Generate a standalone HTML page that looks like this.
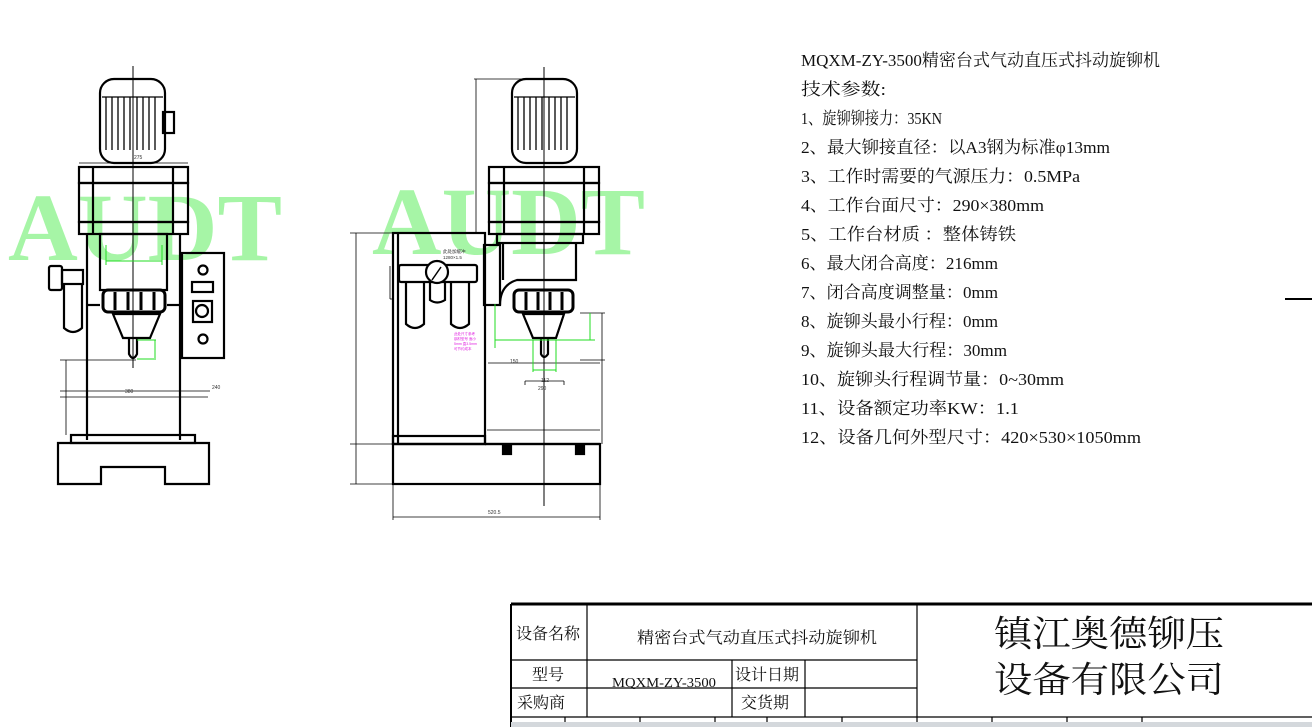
<!DOCTYPE html>
<html><head><meta charset="utf-8"><style>
html,body{margin:0;padding:0;background:#fff;}
svg{display:block;}
.t{font-family:"Liberation Serif","Noto Serif CJK SC",serif;font-size:17px;fill:#111;}
.wm{font-family:"Liberation Serif",serif;font-weight:bold;font-size:96px;fill:#a6f5a6;}
.tb{font-family:"Liberation Serif","Noto Serif CJK SC",serif;fill:#111;}
</style></head><body>
<svg width="1312" height="727" viewBox="0 0 1312 727" xmlns="http://www.w3.org/2000/svg">
<!-- watermarks -->
<text class="wm" x="8" y="260" textLength="274" lengthAdjust="spacingAndGlyphs">AUDT</text>
<text class="wm" x="372" y="254" textLength="273" lengthAdjust="spacingAndGlyphs">AUDT</text>
<g fill="none" stroke="#000" stroke-width="2.2">
<!-- LEFT MACHINE -->
<line x1="133" y1="66" x2="133" y2="368" stroke-width="1"/>
<rect x="100" y="79" width="65" height="84" rx="14"/>
<rect x="163" y="112" width="11" height="21"/>
<g stroke-width="1.3"><line x1="106" y1="97" x2="106" y2="150"/><line x1="112" y1="97" x2="112" y2="150"/><line x1="118" y1="97" x2="118" y2="150"/><line x1="124" y1="97" x2="124" y2="150"/><line x1="130" y1="97" x2="130" y2="150"/><line x1="137" y1="97" x2="137" y2="150"/><line x1="143" y1="97" x2="143" y2="150"/><line x1="149" y1="97" x2="149" y2="150"/><line x1="155" y1="97" x2="155" y2="150"/><line x1="102" y1="97" x2="163" y2="97"/></g>
<rect x="79" y="167" width="109" height="16"/>
<rect x="79" y="183" width="109" height="39"/>
<rect x="79" y="222" width="109" height="12"/>
<line x1="93" y1="167" x2="93" y2="234"/><line x1="173" y1="167" x2="173" y2="234"/>
<rect x="100" y="234" width="67" height="56"/>
<line x1="87" y1="234" x2="87" y2="440"/><line x1="180" y1="234" x2="180" y2="440"/>
<line x1="87" y1="305" x2="100" y2="305"/><line x1="167" y1="305" x2="180" y2="305"/>
<rect x="103" y="290" width="62" height="22" rx="5" stroke-width="3"/>
<line x1="115" y1="292" x2="115" y2="310" stroke-width="3"/><line x1="128" y1="292" x2="128" y2="310" stroke-width="3"/><line x1="141" y1="292" x2="141" y2="310" stroke-width="3"/><line x1="154" y1="292" x2="154" y2="310" stroke-width="3"/>
<path d="M113 314 L160 314 L150 338 L123 338 Z"/>
<path d="M129 338 L129 354 Q133 362 137 354 L137 338"/>
<rect x="182" y="253" width="42" height="105"/>
<circle cx="203" cy="270" r="4.5"/><rect x="192" y="282" width="21" height="10"/><rect x="193" y="301" width="19" height="21"/><circle cx="202" cy="311" r="6"/><circle cx="203" cy="339" r="4.5"/>
<rect x="49" y="266" width="13" height="24" rx="2"/><rect x="62" y="270" width="21" height="14"/><path d="M64 284 L64 328 Q73 336 82 328 L82 284"/>
<rect x="71" y="435" width="124" height="8"/>
<path d="M58 443 L209 443 L209 484 L165 484 L165 467 L101 467 L101 484 L58 484 Z"/>
<g stroke-width="0.8"><line x1="66" y1="360" x2="66" y2="435"/><line x1="60" y1="391" x2="210" y2="391"/><line x1="60" y1="397" x2="208" y2="397"/><line x1="79" y1="163" x2="188" y2="163"/><line x1="60" y1="360" x2="136" y2="360"/></g>
<g stroke="#22dd22" stroke-width="1"><line x1="106" y1="261" x2="162" y2="261"/><line x1="106" y1="245" x2="106" y2="265"/><line x1="162" y1="245" x2="162" y2="265"/><line x1="155" y1="340" x2="155" y2="358"/><line x1="137" y1="340" x2="156" y2="340"/><line x1="137" y1="359" x2="156" y2="359"/></g>
<!-- RIGHT MACHINE -->
<line x1="544" y1="67" x2="544" y2="506" stroke-width="1"/>
<rect x="512" y="79" width="65" height="84" rx="14"/>
<g stroke-width="1.3"><line x1="518" y1="97" x2="518" y2="150"/><line x1="524" y1="97" x2="524" y2="150"/><line x1="530" y1="97" x2="530" y2="150"/><line x1="536" y1="97" x2="536" y2="150"/><line x1="542" y1="97" x2="542" y2="150"/><line x1="549" y1="97" x2="549" y2="150"/><line x1="555" y1="97" x2="555" y2="150"/><line x1="561" y1="97" x2="561" y2="150"/><line x1="567" y1="97" x2="567" y2="150"/><line x1="514" y1="97" x2="575" y2="97"/></g>
<rect x="489" y="167" width="110" height="16"/>
<rect x="489" y="183" width="110" height="39"/>
<rect x="489" y="222" width="110" height="12"/>
<line x1="504" y1="167" x2="504" y2="234"/><line x1="584" y1="167" x2="584" y2="234"/>
<rect x="497" y="234" width="86" height="9"/>
<path d="M503 243 L503 280 M576 243 L576 280 L517 280 Q500 285 500 305"/>
<rect x="484" y="245" width="16" height="60"/>
<rect x="514" y="290" width="59" height="22" rx="5" stroke-width="3"/>
<line x1="526" y1="292" x2="526" y2="310" stroke-width="3"/><line x1="538" y1="292" x2="538" y2="310" stroke-width="3"/><line x1="550" y1="292" x2="550" y2="310" stroke-width="3"/><line x1="562" y1="292" x2="562" y2="310" stroke-width="3"/>
<path d="M523 314 L564 314 L556 338 L533 338 Z"/>
<path d="M541 338 L541 354 Q544 360 548 354 L548 338"/>
<rect x="393" y="233" width="92" height="211"/>
<line x1="398" y1="233" x2="398" y2="444"/>
<rect x="399" y="265" width="78" height="17" rx="2"/>
<circle cx="437" cy="272" r="11" fill="#fff"/><line x1="432" y1="280" x2="441" y2="267" stroke-width="1.5"/>
<path d="M406 282 L406 324 Q415 332 424 324 L424 282"/><path d="M451 282 L451 324 Q460 332 469 324 L469 282"/><path d="M430 282 L430 300 Q437 305 445 300 L445 282"/>
<rect x="393" y="436" width="92" height="8"/>
<line x1="485" y1="444" x2="600" y2="444"/>
<rect x="393" y="444" width="207" height="40"/>
<rect x="503" y="446" width="8" height="8" fill="#000"/><rect x="576" y="446" width="8" height="8" fill="#000"/>
<g stroke-width="0.8"><line x1="356" y1="233" x2="356" y2="484"/><line x1="350" y1="233" x2="393" y2="233"/><line x1="350" y1="444" x2="393" y2="444"/><line x1="350" y1="484" x2="393" y2="484"/><line x1="393" y1="484" x2="393" y2="520"/><line x1="600" y1="484" x2="600" y2="520"/><line x1="393" y1="517" x2="600" y2="517"/><line x1="476" y1="79" x2="476" y2="233"/><line x1="474" y1="79" x2="530" y2="79"/><line x1="602" y1="313" x2="602" y2="444"/><line x1="580" y1="313" x2="605" y2="313"/><line x1="580" y1="360" x2="605" y2="360"/><line x1="488" y1="363" x2="600" y2="363"/><line x1="525" y1="381" x2="564" y2="381"/><line x1="525" y1="381" x2="525" y2="385"/><line x1="564" y1="381" x2="564" y2="385"/><line x1="487" y1="430" x2="600" y2="430"/><line x1="390" y1="299" x2="393" y2="299"/><line x1="390" y1="299" x2="390" y2="266"/></g>
<g stroke="#22dd22" stroke-width="1"><line x1="495" y1="340" x2="595" y2="340"/><line x1="495" y1="304" x2="495" y2="348"/><line x1="590" y1="313" x2="590" y2="340"/><line x1="533" y1="340" x2="533" y2="372"/><line x1="556" y1="340" x2="556" y2="372"/><line x1="533" y1="370" x2="556" y2="370"/></g>
</g>
<g font-family="Liberation Sans,sans-serif" font-size="5" fill="#333">
<text x="134" y="159">275</text><text x="212" y="389">240</text><text x="125" y="393">380</text><text x="538" y="390">290</text><text x="488" y="514">520.5</text><text x="510" y="363">150</text><text x="541" y="382">112</text>
<text x="443" y="253" font-size="4.5">此处加缓冲</text><text x="443" y="259" font-size="4.5">1280×1.5</text>
</g>
<g font-family="Liberation Sans,Noto Sans CJK SC,sans-serif" font-size="3.5" fill="#e020e0"><text x="454" y="335">此处尺寸参考</text><text x="454" y="340">钢材型号 面小</text><text x="454" y="345">5mm 直3.5mm</text><text x="454" y="350">可节约成本</text></g>
<!-- spec text -->
<g class="t">
<text x="801" y="66" textLength="359" lengthAdjust="spacingAndGlyphs">MQXM-ZY-3500精密台式气动直压式抖动旋铆机</text>
<text x="801" y="95" textLength="85" lengthAdjust="spacingAndGlyphs">技术参数:</text>
<text x="801" y="124" textLength="141" lengthAdjust="spacingAndGlyphs">1、旋铆铆接力：35KN</text>
<text x="801" y="153" textLength="309" lengthAdjust="spacingAndGlyphs">2、最大铆接直径：以A3钢为标准φ13mm</text>
<text x="801" y="182" textLength="279" lengthAdjust="spacingAndGlyphs">3、工作时需要的气源压力：0.5MPa</text>
<text x="801" y="211" textLength="243" lengthAdjust="spacingAndGlyphs">4、工作台面尺寸：290×380mm</text>
<text x="801" y="240" textLength="215" lengthAdjust="spacingAndGlyphs">5、工作台材质 ：整体铸铁</text>
<text x="801" y="269" textLength="197" lengthAdjust="spacingAndGlyphs">6、最大闭合高度：216mm</text>
<text x="801" y="298" textLength="197" lengthAdjust="spacingAndGlyphs">7、闭合高度调整量：0mm</text>
<text x="801" y="327" textLength="197" lengthAdjust="spacingAndGlyphs">8、旋铆头最小行程：0mm</text>
<text x="801" y="356" textLength="206" lengthAdjust="spacingAndGlyphs">9、旋铆头最大行程：30mm</text>
<text x="801" y="385" textLength="263" lengthAdjust="spacingAndGlyphs">10、旋铆头行程调节量：0~30mm</text>
<text x="801" y="414" textLength="218" lengthAdjust="spacingAndGlyphs">11、设备额定功率KW：1.1</text>
<text x="801" y="443" textLength="340" lengthAdjust="spacingAndGlyphs">12、设备几何外型尺寸：420×530×1050mm</text>
</g>
<line x1="1285" y1="299" x2="1312" y2="299" stroke="#000" stroke-width="2"/>
<!-- title block -->
<g fill="none" stroke="#000" stroke-width="1.2">
<line x1="511" y1="604" x2="1312" y2="604" stroke-width="3"/>
<line x1="511" y1="604" x2="511" y2="727" stroke-width="2"/>
<line x1="587" y1="604" x2="587" y2="717"/>
<line x1="917" y1="604" x2="917" y2="727"/>
<line x1="511" y1="660" x2="917" y2="660"/>
<line x1="511" y1="688" x2="917" y2="688"/>
<line x1="511" y1="717" x2="1312" y2="717"/>
<line x1="732" y1="660" x2="732" y2="717"/>
<line x1="805" y1="660" x2="805" y2="717"/>
<line x1="565" y1="717" x2="565" y2="727"/><line x1="640" y1="717" x2="640" y2="727"/><line x1="715" y1="717" x2="715" y2="727"/><line x1="767" y1="717" x2="767" y2="727"/><line x1="842" y1="717" x2="842" y2="727"/><line x1="992" y1="717" x2="992" y2="727"/><line x1="1067" y1="717" x2="1067" y2="727"/><line x1="1142" y1="717" x2="1142" y2="727"/>
</g>
<rect x="511" y="722" width="801" height="5" fill="#d4d8dc"/>
<g class="tb" font-size="16">
<text x="516" y="639">设备名称</text>
<text x="637" y="643" textLength="240" lengthAdjust="spacingAndGlyphs">精密台式气动直压式抖动旋铆机</text>
<text x="532" y="680">型号</text>
<text x="612" y="687" font-size="14" textLength="104" lengthAdjust="spacingAndGlyphs">MQXM-ZY-3500</text>
<text x="735" y="680">设计日期</text>
<text x="517" y="708">采购商</text>
<text x="741" y="708">交货期</text>
<text x="994" y="646" font-size="36" textLength="230" lengthAdjust="spacingAndGlyphs">镇江奥德铆压</text>
<text x="994" y="692" font-size="36" textLength="230" lengthAdjust="spacingAndGlyphs">设备有限公司</text>
</g>
</svg>
</body></html>
